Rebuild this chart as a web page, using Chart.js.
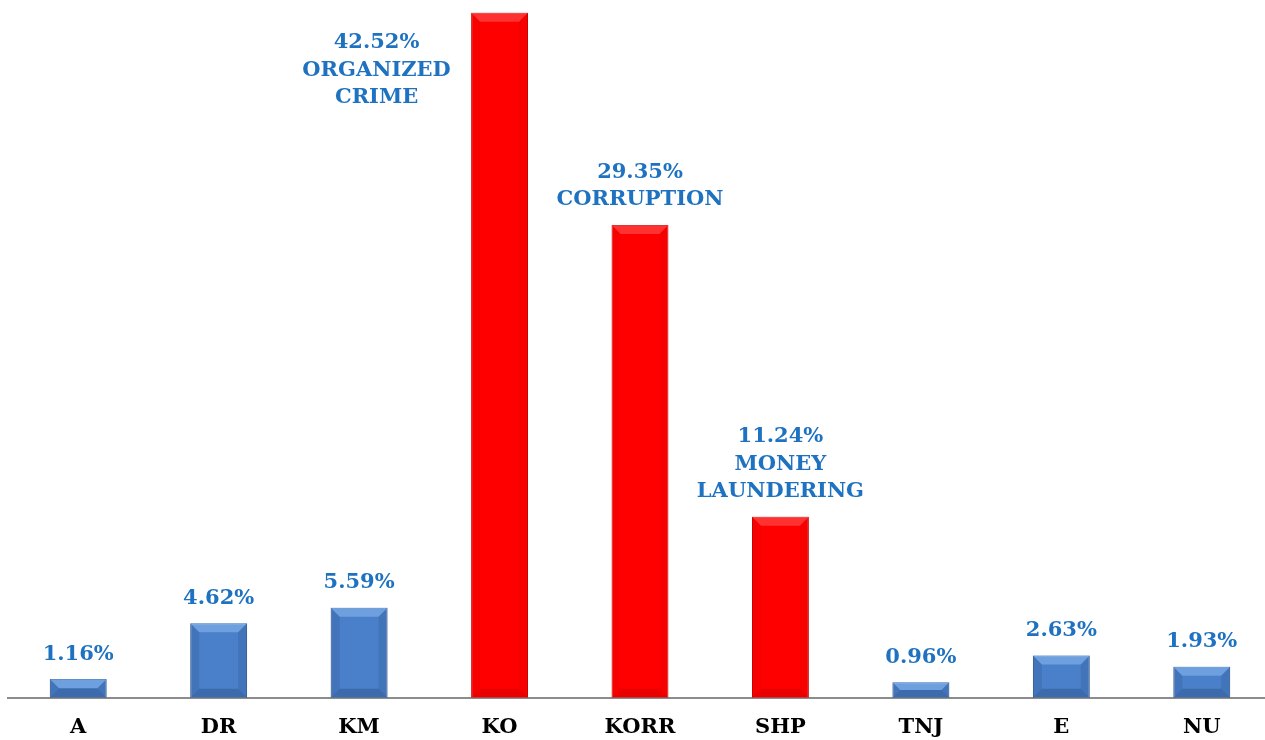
<!DOCTYPE html>
<html>
<head>
<meta charset="utf-8">
<script src="https://cdn.jsdelivr.net/npm/chart.js@4.4.0/dist/chart.umd.min.js"></script>
<style>
  html, body { margin: 0; padding: 0; background: #fff; overflow: hidden; }
  #wrap { width: 1280px; height: 749px; }
</style>
</head>
<body>
<div id="wrap"><canvas id="grafico"></canvas></div>
<script>
// dados do grafico
const categorias = ['A', 'DR', 'KM', 'KO', 'KORR', 'SHP', 'TNJ', 'E', 'NU'];
const valores = [1.16, 4.62, 5.59, 42.52, 29.35, 11.24, 0.96, 2.63, 1.93];
const rotulos = [
  ['1.16%'], ['4.62%'], ['5.59%'],
  ['42.52%', 'ORGANIZED', 'CRIME'],
  ['29.35%', 'CORRUPTION'],
  ['11.24%', 'MONEY', 'LAUNDERING'],
  ['0.96%'], ['2.63%'], ['1.93%']
];
const destaque = ['KO', 'KORR', 'SHP'];

const corAzul = '#4a80c9';
const corVermelho = '#ff0000';
const fonteSerif = '"DejaVu Serif", "Liberation Serif", serif';

const cores = categorias.map(c => destaque.includes(c) ? corVermelho : corAzul);
const bordas = categorias.map(c => destaque.includes(c) ? '#d00000' : '#2d5a96');

// efeito de bisel nas barras
const biselPlugin = {
  id: 'bisel',
  afterDatasetsDraw(chart) {
    const ctx = chart.ctx;
    chart.getDatasetMeta(0).data.forEach((bar, i) => {
      const w = bar.width;
      const left = bar.x - w / 2, right = bar.x + w / 2;
      const top = bar.y, bottom = bar.base;
      const h = bottom - top;
      const b = Math.min(9, h / 2);
      const red = destaque.includes(categorias[i]);
      ctx.save();
      // topo claro
      ctx.fillStyle = red ? 'rgba(255,110,110,0.45)' : 'rgba(140,185,240,0.55)';
      ctx.beginPath();
      ctx.moveTo(left, top); ctx.lineTo(right, top);
      ctx.lineTo(right - b, top + b); ctx.lineTo(left + b, top + b);
      ctx.closePath(); ctx.fill();
      // laterais
      ctx.fillStyle = red ? 'rgba(150,0,0,0.08)' : 'rgba(20,50,100,0.15)';
      ctx.beginPath();
      ctx.moveTo(left, top); ctx.lineTo(left + b, top + b);
      ctx.lineTo(left + b, bottom - b); ctx.lineTo(left, bottom);
      ctx.closePath(); ctx.fill();
      ctx.beginPath();
      ctx.moveTo(right, top); ctx.lineTo(right - b, top + b);
      ctx.lineTo(right - b, bottom - b); ctx.lineTo(right, bottom);
      ctx.closePath(); ctx.fill();
      // base escura
      ctx.fillStyle = red ? 'rgba(120,0,0,0.15)' : 'rgba(15,40,90,0.25)';
      ctx.beginPath();
      ctx.moveTo(left, bottom); ctx.lineTo(right, bottom);
      ctx.lineTo(right - b, bottom - b); ctx.lineTo(left + b, bottom - b);
      ctx.closePath(); ctx.fill();
      ctx.restore();
    });
  }
};

// rotulos em cima das barras
const rotuloPlugin = {
  id: 'rotulos',
  afterDatasetsDraw(chart) {
    const ctx = chart.ctx;
    ctx.save();
    ctx.font = 'bold 21px ' + fonteSerif;
    ctx.fillStyle = '#1f72c0';
    ctx.textAlign = 'center';
    ctx.textBaseline = 'middle';
    chart.getDatasetMeta(0).data.forEach((bar, i) => {
      const linhas = rotulos[i];
      let x = bar.x;
      let y0;
      if (categorias[i] === 'KO') {
        x = bar.x - 123;
        y0 = bar.y + 30;
      } else {
        y0 = bar.y - 25 - (linhas.length - 1) * 27.5;
      }
      linhas.forEach((t, k) => ctx.fillText(t, x, y0 + k * 27.5));
    });
    ctx.restore();
  }
};

new Chart(document.getElementById('grafico'), {
  type: 'bar',
  data: {
    labels: categorias,
    datasets: [{
      data: valores,
      backgroundColor: cores,
      borderColor: bordas,
      borderWidth: 1,
      barPercentage: 0.405,
      categoryPercentage: 1
    }]
  },
  options: {
    responsive: true,
    maintainAspectRatio: false,
    animation: false,
    layout: { padding: { left: 8, right: 8, top: 5, bottom: 0 } },
    plugins: { legend: { display: false }, tooltip: { enabled: false } },
    scales: {
      x: {
        grid: { display: false },
        border: { display: true, color: '#8c8c8c', width: 2 },
        ticks: {
          color: '#000',
          font: { family: fonteSerif, size: 21, weight: 'bold' },
          padding: 9
        }
      },
      y: {
        min: 0,
        max: 43,
        display: false
      }
    }
  },
  plugins: [biselPlugin, rotuloPlugin]
});
</script>
</body>
</html>
